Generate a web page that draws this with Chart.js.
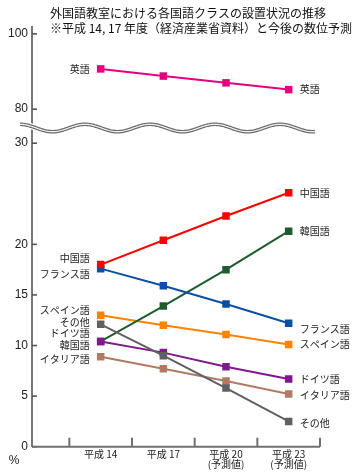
<!DOCTYPE html>
<html><head><meta charset="utf-8">
<script src="https://cdn.jsdelivr.net/npm/chart.js@4"></script>
<style>html,body{margin:0;padding:0;background:#fff}#wrap{width:359px;height:474px;position:relative}</style>
</head><body><div id="wrap"><canvas id="c"></canvas></div>
<script>
// ---- data ----
const titleLines = ['外国語教室における各国語クラスの設置状況の推移', '※平成 14, 17 年度（経済産業省資料）と今後の数位予測'];
const categories = ['平成 14', '平成 17', ['平成 20', '(予測値)'], ['平成 23', '(予測値)']];
const unitLabel = '%';
const seriesNames = ['英語', '中国語', 'フランス語', 'その他', 'ドイツ語', '韓国語', 'スペイン語', 'イタリア語'];
const english = [90.7, 88.8, 87.0, 85.2];
const chinese = [18.0, 20.4, 22.8, 25.1];
const french = [17.6, 15.9, 14.1, 12.2];
const other = [12.1, 9.0, 5.8, 2.5];
const german = [10.4, 9.3, 7.9, 6.7];
const korean = [10.4, 13.9, 17.5, 21.3];
const spanish = [13.0, 12.0, 11.1, 10.1];
const italian = [8.9, 7.7, 6.5, 5.2];
const upperTicks = [80, 100];
const lowerTicks = [0, 5, 10, 15, 20, 30];

// ---- style (not data) ----
const seriesValues = [english, chinese, french, other, german, korean, spanish, italian];
const seriesStyle = [
  {color: '#e4007f', axis: 'yTop', dl: 0, dr: 0},
  {color: '#ff0000', axis: 'yBot', dl: -6, dr: 0},
  {color: '#0a50a1', axis: 'yBot', dl: 6, dr: 6},
  {color: '#606060', axis: 'yBot', dl: -2, dr: 2},
  {color: '#7f1a8a', axis: 'yBot', dl: -8, dr: 0},
  {color: '#1d5c2c', axis: 'yBot', dl: 4, dr: 0},
  {color: '#ff8200', axis: 'yBot', dl: -5, dr: 0},
  {color: '#b07b62', axis: 'yBot', dl: 3, dr: 1}
];
const CJK = '"Noto Sans CJK JP", "Noto Sans", sans-serif';
const NARROW = '"Liberation Sans Narrow", "Liberation Sans", Arial, sans-serif';

const datasets = seriesNames.map((name, i) => ({
  label: name,
  data: seriesValues[i].map((v, k) => ({x: k, y: v})),
  yAxisID: seriesStyle[i].axis,
  borderColor: seriesStyle[i].color,
  backgroundColor: seriesStyle[i].color,
  pointBackgroundColor: seriesStyle[i].color,
  pointBorderColor: seriesStyle[i].color,
  borderWidth: 2,
  pointStyle: 'rect',
  pointRadius: 5.3,
  pointBorderWidth: 0,
  tension: 0
}));

const decor = {
  id: 'decor',
  afterDatasetsDraw(chart) {
    const {ctx, chartArea: a, scales} = chart;
    ctx.save();
    // series labels at both ends
    ctx.font = '10px ' + CJK;
    ctx.fillStyle = '#222';
    ctx.textBaseline = 'middle';
    chart.data.datasets.forEach((ds, i) => {
      const meta = chart.getDatasetMeta(i);
      const p0 = meta.data[0], pN = meta.data[meta.data.length - 1];
      ctx.textAlign = 'right';
      ctx.fillText(ds.label, p0.x - 11, p0.y + seriesStyle[i].dl);
      ctx.textAlign = 'left';
      ctx.fillText(ds.label, pN.x + 11, pN.y + seriesStyle[i].dr);
    });
    // y axis line and inward ticks
    ctx.strokeStyle = '#555';
    ctx.lineWidth = 1.6;
    ctx.beginPath(); ctx.moveTo(a.left, a.top); ctx.lineTo(a.left, a.bottom); ctx.stroke();
    [['yTop', upperTicks], ['yBot', lowerTicks]].forEach(([id, vals]) => {
      vals.forEach(v => {
        const y = scales[id].getPixelForValue(v);
        ctx.beginPath(); ctx.moveTo(a.left, y); ctx.lineTo(a.left + 5, y); ctx.stroke();
      });
    });
    // x axis line and category boundary ticks
    ctx.strokeStyle = '#707070';
    ctx.lineWidth = 2;
    ctx.beginPath(); ctx.moveTo(a.left, a.bottom); ctx.lineTo(a.right, a.bottom); ctx.stroke();
    const bounds = categories.map((_, k) => k - 0.5).concat([categories.length - 0.5]);
    bounds.forEach(b => {
      const x = scales.x.getPixelForValue(b);
      ctx.beginPath(); ctx.moveTo(x, a.bottom); ctx.lineTo(x, a.bottom - 9); ctx.stroke();
    });
    // axis break wave
    const yc = scales.yTop.bottom;
    const wave = () => {
      ctx.beginPath();
      for (let x = 20; x <= 315; x += 1) {
        const y = yc - 3.7 * Math.cos(2 * Math.PI * (x - 20) / 65);
        if (x === 20) ctx.moveTo(x, y); else ctx.lineTo(x, y);
      }
      ctx.stroke();
    };
    ctx.lineCap = 'butt';
    ctx.strokeStyle = '#fff'; ctx.lineWidth = 6; wave();
    ctx.strokeStyle = '#6a6a6a'; ctx.lineWidth = 3.6; wave();
    ctx.strokeStyle = '#f4f4f4'; ctx.lineWidth = 1.2; wave();
    // title
    ctx.fillStyle = '#111';
    ctx.textAlign = 'left';
    ctx.font = '12px ' + CJK;
    ctx.fillText(titleLines[0], 50, 13.5);
    ctx.fillText(titleLines[1], 50, 28);
    // unit
    ctx.font = '12px ' + NARROW;
    ctx.textAlign = 'center';
    ctx.fillStyle = '#222';
    ctx.fillText(unitLabel, 14, 461);
    ctx.restore();
  }
};

new Chart(document.getElementById('c'), {
  type: 'line',
  data: {datasets},
  plugins: [decor],
  options: {
    responsive: true,
    maintainAspectRatio: false,
    animation: false,
    devicePixelRatio: 1,
    layout: {padding: {top: 26, right: 39, left: 0, bottom: 0}},
    plugins: {legend: {display: false}, tooltip: {enabled: false}, title: {display: false}},
    scales: {
      x: {
        type: 'linear', position: 'bottom', min: -1.096, max: 3.5,
        grid: {display: false, drawTicks: false}, border: {display: false},
        afterBuildTicks: s => { s.ticks = categories.map((_, k) => ({value: k})); },
        afterFit: s => { s.height = 27.3; },
        ticks: {
          autoSkip: false, maxRotation: 0, padding: 2.3,
          color: '#222', font: {family: CJK, size: 10, lineHeight: 1.0},
          callback: v => categories[v]
        }
      },
      yBot: {
        type: 'linear', position: 'left', stack: 'y', stackWeight: 318.7,
        min: 0, max: 31.5,
        grid: {display: false, drawTicks: false}, border: {display: false},
        afterBuildTicks: s => { s.ticks = lowerTicks.map(v => ({value: v})); },
        afterFit: s => { s.width = 32; },
        ticks: {autoSkip: false, padding: 4, color: '#222', font: {family: NARROW, size: 12}}
      },
      yTop: {
        type: 'linear', position: 'left', stack: 'y', stackWeight: 102,
        min: 75, max: 102.1,
        grid: {display: false, drawTicks: false}, border: {display: false},
        afterBuildTicks: s => { s.ticks = upperTicks.map(v => ({value: v})); },
        afterFit: s => { s.width = 32; },
        ticks: {autoSkip: false, padding: 4, color: '#222', font: {family: NARROW, size: 12}}
      }
    }
  }
});
</script></body></html>
